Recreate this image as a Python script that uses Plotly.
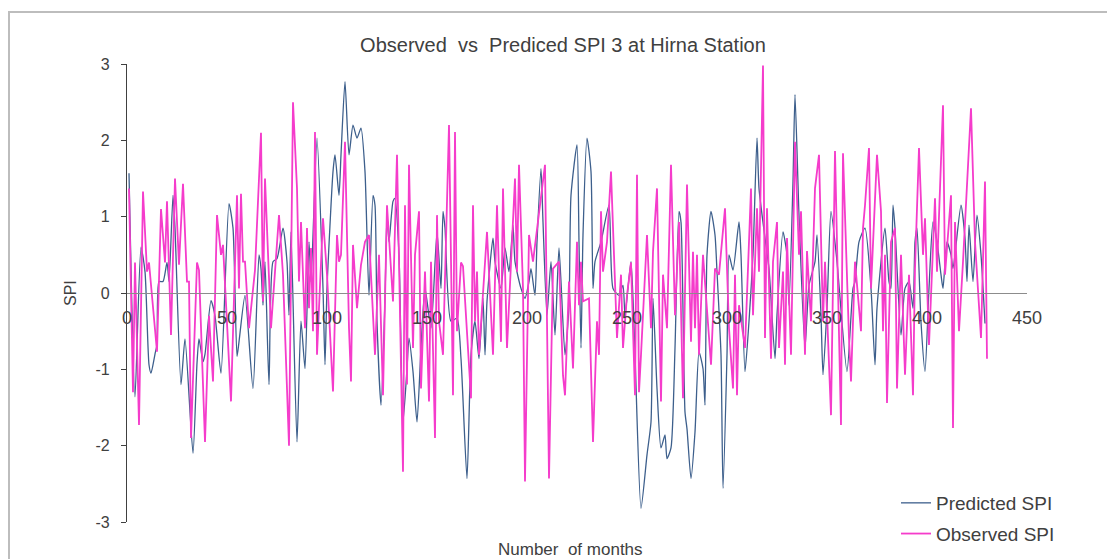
import plotly.graph_objects as go

# ---- data ----
pred_month = [1,4,7,9,11,12,14,15,16,18,20,21,23,24,27,29,33,35,36,38,39,42,
              44,47,51,53,55,56,59,63,66,67,68,69,71,73,75,78,80,81,82,85,
              87,89,91,92,95,98,99,100,103,104,106,107,109,111,113,115,117,119,121,123,124,125,127,129,130,
              131,133,134,136,138,140,141,143,145,147,149,152,155,157,158,159,162,165,167,170,172,174,
              176,178,179,180,183,184,187,189,191,193,194,197,199,201,202,204,205,207,208,210,212,214,216,
              219,221,222,225,226,227,228,230,232,233,234,237,241,243,246,248,249,252,254,257,260,
              262,263,265,267,269,270,272,274,276,277,279,280,282,284,286,288,289,290,292,294,295,297,298,300,301,303,
              306,307,309,311,313,315,316,319,321,324,325,328,330,331,333,334,336,339,341,344,345,347,348,
              350,352,355,360,363,364,366,369,372,374,375,379,381,382,383,384,387,389,391,393,394,
              395,397,399,401,403,405,407,408,410,412,413,417,419,420,421,423,425,427,429]
pred_spi = [1.57,-1.36,0.6,0.28,-0.94,-1.05,-0.8,-0.68,0.15,0.15,0.4,0.15,1.28,0.85,-1.2,-0.6,-2.1,-0.92,-0.6,-0.9,-0.8,-0.1,
            -0.3,-1.05,1.17,0.85,-0.83,-0.64,-0.03,-1.25,0.5,0.32,-0.16,0.41,-1.2,0.41,0.45,0.85,0.41,-0.29,0.8,-1.95,
            -0.37,-0.99,0.67,0.15,2.03,0.06,-0.94,0.06,1.59,1.81,1.28,1.81,2.77,1.81,2.2,2.03,2.16,1.59,-0.03,1.28,1.15,-0.37,-1.47,-0.07,1.02,
            0.67,1.2,1.24,0.5,-1.69,-0.99,-0.59,-1.03,-1.69,-0.72,0.06,-0.46,0.8,0.06,1.07,0.85,-0.37,-0.33,-0.86,-2.43,-0.81,-0.37,
            -0.86,-0.07,-0.81,-0.11,0.72,0.41,0.06,0.59,0.28,0.89,0.41,0.06,-0.07,0.15,0.32,-0.03,0.67,1.63,0.93,-0.29,0.41,-0.55,0.59,
            -0.81,-0.16,1.28,1.94,0.67,-0.72,0.76,2.03,1.59,0.06,0.41,0.67,1.15,0.06,-0.03,0.1,-0.29,0.41,-0.81,-2.82,-2.12,
            -1.69,-0.07,-1.25,-2.03,-1.86,-2.17,-2.03,-0.72,1.07,0.93,-1.56,-1.78,-2.43,-1.82,-0.77,-0.99,-1.47,0.5,1.07,0.76,0.28,-0.81,-2.56,-0.81,0.5,0.3,
            0.93,0.5,-1.03,-0.37,0.5,2.03,1.37,0.72,0.32,-0.86,-0.29,0.8,0.5,-0.16,1.46,2.6,1.02,-0.72,0.1,0.41,0.76,-0.29,-1.07,
            -0.2,1.07,0.41,-1.03,0.06,0.15,0.67,0.85,0.06,-0.94,-0.2,0.85,0.15,0.06,1.15,0.85,-0.55,0.06,0.15,-0.2,0.67,
            0.85,-0.38,-1.03,0.06,0.93,0.67,0.24,0.06,0.67,0.5,0.32,1.15,0.72,0.15,0.89,0.15,1.02,0.5,-0.4]

obs_month = [1,3,4,6,8,10,11,15,17,19,20,22,24,26,28,30,31,32,35,36,39,
             41,43,45,47,48,52,55,56,57,58,59,61,64,67,68,69,72,76,78,81,83,85,
             86,87,89,90,91,92,93,94,95,96,98,100,103,105,106,107,109,111,112,113,115,117,119,121,124,126,127,
             128,130,133,135,138,139,140,141,143,144,146,147,149,151,152,154,155,156,158,161,163,164,165,167,168,172,
             173,174,175,176,178,180,183,185,187,188,190,194,195,196,198,199,201,203,209,211,213,216,218,
             219,221,223,225,226,227,228,231,233,235,236,237,238,240,242,245,247,248,250,252,254,255,256,257,260,262,
             263,265,267,268,270,272,274,276,278,280,282,283,284,285,286,288,292,294,296,299,301,303,304,305,
             306,309,312,313,315,316,318,319,320,322,323,325,326,328,329,330,332,334,336,337,339,340,342,344,346,348,
             349,352,354,357,358,361,362,364,367,368,369,371,372,375,377,378,379,380,382,384,385,387,389,391,
             393,394,396,398,399,401,404,405,408,409,412,413,414,416,418,422,424,427,429,430]
obs_spi = [1.37,-1.3,0.4,-1.73,1.33,0.28,0.4,-0.77,1.1,0.4,1.2,-0.55,1.5,0.37,1.43,0.15,0.15,-1.9,0.4,0.3,-1.95,
           -0.3,-1.16,1.02,0.5,0.63,-1.42,1.28,0.06,1.3,0.41,0.41,-0.46,0.3,2.1,-0.11,1.5,-0.46,1.02,0.24,-2.0,2.5,1.37,
           0.15,0.93,-0.46,0.85,-0.2,0.59,-0.5,2.11,-0.81,-0.2,0.98,0.24,-1.29,0.76,0.41,0.5,1.98,-0.46,-1.16,0.63,-0.2,0.37,0.67,0.76,-0.81,0.5,-0.46,
           -1.34,1.15,-0.11,1.81,-2.34,1.15,-1.2,1.68,-0.72,0.5,1.07,-1.25,0.28,-1.42,0.41,-1.9,1.02,-0.37,-0.81,2.2,-1.34,2.11,-0.5,0.4,0.35,-1.38,
           1.15,-0.37,0.28,-0.81,0.06,0.8,-0.81,1.15,-0.64,1.37,-0.72,1.5,0.28,1.68,0.06,-2.47,0.76,0.41,1.68,-2.43,0.32,0.41,-1.08,
           -1.34,0.15,-0.99,0.67,-0.16,0.41,-0.11,-0.07,-1.95,-0.37,-0.81,1.07,0.28,0.67,1.59,-0.59,0.24,-0.72,-0.03,0.4,-1.34,1.55,-1.3,-0.81,0.76,-0.46,
           0.54,1.37,-1.42,0.24,-0.46,1.68,-0.29,0.93,-1.38,1.42,-0.64,0.54,-0.46,0.5,-0.81,0.5,-0.94,0.32,0.24,1.11,-0.46,-1.25,0.24,-1.34,
           -0.16,-0.72,1.37,-0.29,1.11,0.28,2.98,-0.59,1.11,-0.86,0.41,0.93,-0.72,0.28,-0.94,0.72,-0.81,1.98,0.5,1.07,-0.81,0.55,-0.37,1.37,1.81,-0.37,
           0.41,-1.6,1.86,-1.73,1.83,-0.59,-1.16,0.41,-0.5,0.85,1.15,1.9,0.06,1.81,1.07,-0.5,0.5,-1.44,0.67,0.85,-1.25,0.5,-1.07,0.24,
           -1.34,0.32,1.9,0.5,0.98,-0.68,1.24,0.28,2.46,0.24,1.28,-1.77,0.93,-0.5,0.41,2.42,0.67,-0.59,1.46,-0.86]

x_ticks = [0, 50, 100, 150, 200, 250, 300, 350, 400, 450]
y_ticks = [-3, -2, -1, 0, 1, 2, 3]

title_text = "Observed  vs  Prediced SPI 3 at Hirna Station"
x_title = "Number  of months"
y_title = "SPI"

FONT = "Liberation Sans, Arial, sans-serif"
TXT = "#404040"

fig = go.Figure()
fig.add_trace(go.Scatter(x=pred_month, y=pred_spi, mode="lines", name="Predicted SPI",
                         line=dict(color="#3d5f8c", width=1.3, shape="spline", smoothing=0.6),
                         legendgroup="p"))
fig.add_trace(go.Scatter(x=obs_month, y=obs_spi, mode="lines", name="Observed SPI",
                         line=dict(color="#f53ccb", width=1.8),
                         legendgroup="o"))

fig.update_layout(
    width=1107, height=559,
    margin=dict(l=127, r=80, t=64, b=37, autoexpand=False),
    paper_bgcolor="white", plot_bgcolor="white",
    font=dict(family=FONT, color=TXT, size=16),
    title=dict(text=title_text, x=563/1107, xanchor="center", y=1 - 45/559, yanchor="middle",
               yref="container", font=dict(size=20, color=TXT)),
    showlegend=True,
    legend=dict(x=(896-127)/900, y=(522-484)/458, xanchor="left", yanchor="top",
                font=dict(size=19, color=TXT), bgcolor="rgba(0,0,0,0)",
                traceorder="grouped", tracegroupgap=3),
    xaxis=dict(range=[0, 450], tickvals=x_ticks, ticktext=[str(v) for v in x_ticks],
               showgrid=False, zeroline=False, showline=True, linecolor="#8c8c8c", linewidth=1.2,
               anchor="free", position=0.5, ticks="", ticklabelstandoff=8, automargin=False,
               tickfont=dict(size=18, color=TXT)),
    yaxis=dict(range=[-3, 3], tickvals=y_ticks, ticktext=[str(v) for v in y_ticks],
               showgrid=False, zeroline=False, showline=True, linecolor="#404040", linewidth=1.3,
               ticks="outside", ticklen=5, tickcolor="#404040", ticklabelstandoff=8, automargin=False,
               tickfont=dict(size=16, color=TXT)),
    annotations=[
        dict(text=x_title, xref="paper", yref="paper", x=(570-127)/900, y=(522-549)/458,
             xanchor="center", yanchor="middle", showarrow=False, font=dict(size=17, color=TXT)),
        dict(text=y_title, xref="paper", yref="paper", x=(70-127)/900, y=(522-293)/458,
             xanchor="center", yanchor="middle", showarrow=False, textangle=-90,
             font=dict(size=16, color=TXT)),
    ],
    shapes=[dict(type="rect", xref="paper", yref="paper",
                 x0=(9-127)/900, x1=(1112-127)/900, y0=(522-620)/458, y1=(522-12)/458,
                 line=dict(color="#bdbdbd", width=2), fillcolor="rgba(0,0,0,0)", layer="below")],
)

fig.write_html("out.html", config={"displayModeBar": False},
               post_script="document.body.style.margin='0';document.body.style.overflow='hidden';")
